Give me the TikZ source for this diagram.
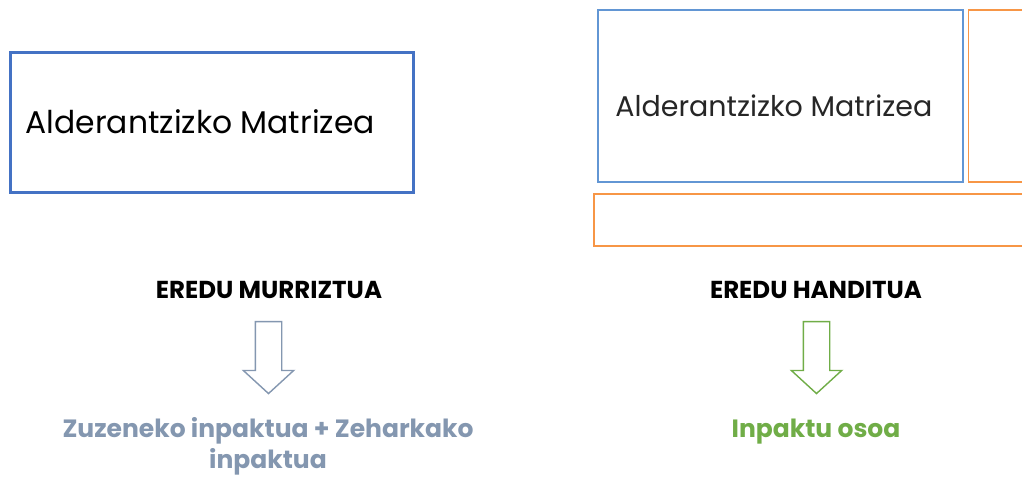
\documentclass[tikz,border=0pt]{standalone}
\usepackage{fontspec}
\setmainfont{Poppins}
\usetikzlibrary{positioning,shapes.arrows}
\definecolor{matrixBlue}{RGB}{68,114,196}
\definecolor{matrixBlueLight}{RGB}{98,150,212}
\definecolor{extraOrange}{RGB}{247,150,70}
\definecolor{reducedGray}{RGB}{132,151,176}
\definecolor{fullGreen}{RGB}{112,173,71}
\tikzset{
  matrix box/.style={draw=matrixBlue,line width=3pt,minimum width=403pt,minimum height=140pt,inner sep=0pt},
  matrix box light/.style={draw=matrixBlueLight,line width=1.6pt,minimum width=365pt,minimum height=172pt,inner sep=0pt},
  extra box/.style={draw=extraOrange,line width=1.6pt,inner sep=0pt},
  matrix text/.style={anchor=west,inner sep=0pt,font=\fontsize{31.4}{36}\selectfont},
  model label/.style={font=\fontsize{24.5}{28}\selectfont\bfseries,inner sep=0pt},
  result label/.style={font=\fontsize{25}{31}\selectfont\bfseries,align=center,inner sep=0pt},
  down arrow/.style={single arrow,shape border rotate=270,line width=1.4pt,fill=white,
    minimum height=72pt,minimum width=0pt,single arrow head extend=12pt,single arrow tip angle=95,inner sep=0pt}
}
\begin{document}
\begin{tikzpicture}[x=1pt,y=-1pt]
        \clip (0,0) rectangle (1022,479);
        \fill[white] (0,0) rectangle (1022,479);
        % reduced model
        \node[matrix box] (leftbox) at (211.5,122) {};
        \node[matrix text] (lefttext) at ([xshift=17pt]leftbox.west) {Alderantzizko Matrizea};
        \node[model label] (reduced) at (269,290) {EREDU MURRIZTUA};
        \node[down arrow,draw=reducedGray] (leftarrow) at (268.5,351.5) {\rule{25pt}{0pt}};
        \node[result label,text=reducedGray] (reducedres) at (268,446.5) {Zuzeneko inpaktua + Zeharkako\\inpaktua};
        % enlarged model
        \node[matrix box light] (rightbox) at (780.5,96) {};
        \node[matrix text,font=\fontsize{28.5}{32}\selectfont,text=black!85] (righttext) at ([xshift=18pt,yshift=-10pt]rightbox.west) {Alderantzizko Matrizea};
        \node[extra box,minimum width=80pt,minimum height=172pt,right=4pt of rightbox.east,anchor=west] (sidebox) {};
        \node[extra box,minimum width=460pt,minimum height=52pt,anchor=north west] (bottombox) at (593,193) {};
        \node[model label] (enlarged) at (816,290) {EREDU HANDITUA};
        \node[down arrow,draw=fullGreen] (rightarrow) at (816.5,351.5) {\rule{25pt}{0pt}};
        \node[result label,text=fullGreen] (fullres) at (816,432) {Inpaktu osoa};
\end{tikzpicture}
\end{document}
